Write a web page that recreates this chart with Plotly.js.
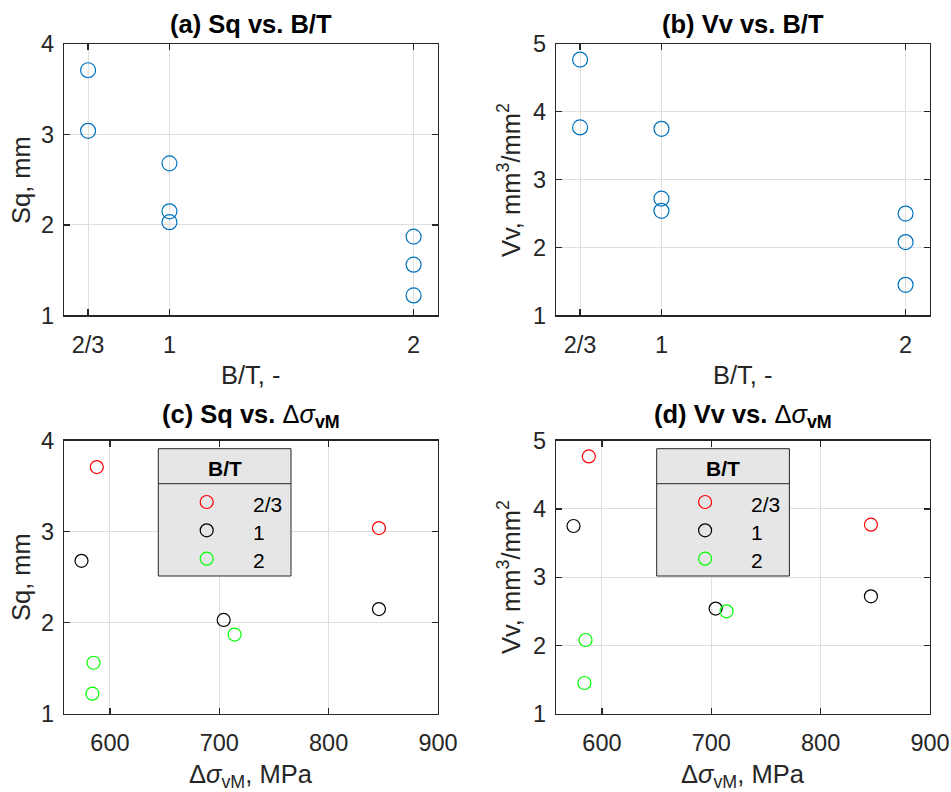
<!DOCTYPE html>
<html>
<head>
<meta charset="utf-8">
<script src="https://cdn.plot.ly/plotly-3.0.1.min.js"></script>
<style>html,body{margin:0;padding:0;background:#fff;}#chart{width:951px;height:792px;}</style>
</head>
<body>
<div id="chart"></div>
<script>
// ---- data ----
const btLabels = ['2/3', '1', '2'];
const btValues = [2/3, 1, 2];
const groupColors = ['#ff0000', '#000000', '#00ff00'];
const sampleBT = [2/3, 2/3, 1, 1, 1, 2, 2, 2];
const sq = [3.71, 3.04, 2.68, 2.15, 2.03, 1.87, 1.56, 1.22];
const vv = [4.77, 3.77, 3.75, 2.72, 2.54, 2.50, 2.08, 1.45];
const dSigma = [588, 846, 574, 846, 704, 714, 585, 584];
const sigmaTicks = [600, 700, 800, 900];

// ---- helpers ----
const W = 951, H = 792;
const FF = 'Liberation Sans, Arial, sans-serif';
const TICK = 23.5, LAB = 25.5, TIT = 25.5, LEG = 21;
const px = v => v / W;
const py = v => 1 - v / H;

function axisBase(extra) {
  return Object.assign({
    showline: true, mirror: 'ticks', linecolor: '#262626', linewidth: 1.3,
    ticks: 'inside', ticklen: 6, tickwidth: 1.3, tickcolor: '#262626',
    showgrid: true, gridcolor: '#dfdfdf', gridwidth: 1, zeroline: false,
    tickfont: {family: FF, size: TICK, color: '#262626'}, fixedrange: true
  }, extra);
}

const traces = [];
// (a) and (b)
traces.push({x: sampleBT, y: sq, xaxis: 'x', yaxis: 'y', type: 'scatter', mode: 'markers',
  marker: {symbol: 'circle-open', size: 15, color: '#0072BD', line: {width: 1.2}}, showlegend: false, hoverinfo: 'none'});
traces.push({x: sampleBT, y: vv, xaxis: 'x2', yaxis: 'y2', type: 'scatter', mode: 'markers',
  marker: {symbol: 'circle-open', size: 15, color: '#0072BD', line: {width: 1.2}}, showlegend: false, hoverinfo: 'none'});
// (c) and (d)
btValues.forEach((bt, g) => {
  const idx = sampleBT.map((v, i) => v === bt ? i : -1).filter(i => i >= 0);
  traces.push({x: idx.map(i => dSigma[i]), y: idx.map(i => sq[i]), xaxis: 'x3', yaxis: 'y3', type: 'scatter', mode: 'markers',
    name: btLabels[g], marker: {symbol: 'circle-open', size: 13, color: groupColors[g], line: {width: 1.2}}, showlegend: false, hoverinfo: 'none'});
  traces.push({x: idx.map(i => dSigma[i]), y: idx.map(i => vv[i]), xaxis: 'x4', yaxis: 'y4', type: 'scatter', mode: 'markers',
    name: btLabels[g], marker: {symbol: 'circle-open', size: 13, color: groupColors[g], line: {width: 1.2}}, showlegend: false, hoverinfo: 'none'});
});

// panel boxes in px
const colL = [64, 438], colR = [556, 930];
const rowT = [44, 315.3], rowB = [440.7, 713.7];
const dom = (a) => [px(a[0]), px(a[1])];
const domY = (a) => [py(a[1]), py(a[0])];

const btAxis = {range: [0.568, 2.1], tickmode: 'array', tickvals: btValues, ticktext: btLabels, ticklabelstandoff: 8};
const sgAxis = {range: [558, 900], tickmode: 'array', tickvals: sigmaTicks, ticklabelstandoff: 8};

const layout = {
  width: W, height: H, margin: {l: 0, r: 0, t: 0, b: 0},
  paper_bgcolor: '#fff', plot_bgcolor: '#fff', showlegend: false,
  font: {family: FF, color: '#262626'},
  xaxis: axisBase(Object.assign({domain: dom(colL), anchor: 'y'}, btAxis)),
  yaxis: axisBase({domain: domY(rowT), anchor: 'x', range: [1, 4], dtick: 1, ticklabelstandoff: 4}),
  xaxis2: axisBase(Object.assign({domain: dom(colR), anchor: 'y2'}, btAxis)),
  yaxis2: axisBase({domain: domY(rowT), anchor: 'x2', range: [1, 5], dtick: 1, ticklabelstandoff: 4}),
  xaxis3: axisBase(Object.assign({domain: dom(colL), anchor: 'y3'}, sgAxis)),
  yaxis3: axisBase({domain: domY(rowB), anchor: 'x3', range: [1, 4], dtick: 1, ticklabelstandoff: 4}),
  xaxis4: axisBase(Object.assign({domain: dom(colR), anchor: 'y4'}, sgAxis)),
  yaxis4: axisBase({domain: domY(rowB), anchor: 'x4', range: [1, 5], dtick: 1, ticklabelstandoff: 4}),
  annotations: [], shapes: []
};

function ann(text, x, y, opts) {
  layout.annotations.push(Object.assign({text: text, xref: 'paper', yref: 'paper', x: px(x), y: py(y),
    xanchor: 'center', yanchor: 'middle', showarrow: false,
    font: {family: FF, size: LAB, color: '#262626'}}, opts || {}));
}
const titleFont = {family: FF, size: TIT, color: '#000'};
// titles
ann('<b>(a) Sq vs. B/T</b>', 251, 24, {font: titleFont});
ann('<b>(b) Vv vs. B/T</b>', 743, 24, {font: titleFont});
ann('<b>(c) Sq vs. </b>Δ<i>σ</i><sub><b>vM</b></sub>', 251, 416, {font: titleFont});
ann('<b>(d) Vv vs. </b>Δ<i>σ</i><sub><b>vM</b></sub>', 743, 416, {font: titleFont});
// x labels
ann('B/T, -', 251, 374.5);
ann('B/T, -', 743, 374.5);
ann('Δ<i>σ</i><sub>vM</sub>, MPa', 251, 776);
ann('Δ<i>σ</i><sub>vM</sub>, MPa', 743, 776);
// y labels
ann('Sq, mm', 21, 180, {textangle: -90});
ann('Vv, mm<sup>3</sup>/mm<sup>2</sup>', 509, 180, {textangle: -90});
ann('Sq, mm', 21, 577, {textangle: -90});
ann('Vv, mm<sup>3</sup>/mm<sup>2</sup>', 509, 577, {textangle: -90});

// legends (c) and (d)
[0, 498.4].forEach(dx => {
  const x0 = 158.3 + dx, x1 = 291 + dx, y0 = 448.7, y1 = 576, ySep = 483.7;
  layout.shapes.push({type: 'rect', xref: 'paper', yref: 'paper', x0: px(x0), x1: px(x1), y0: py(y1), y1: py(y0),
    fillcolor: '#e6e6e6', line: {color: '#262626', width: 1}, layer: 'above'});
  layout.shapes.push({type: 'line', xref: 'paper', yref: 'paper', x0: px(x0), x1: px(x1), y0: py(ySep), y1: py(ySep),
    line: {color: '#262626', width: 1}, layer: 'above'});
  ann('<b>B/T</b>', (x0 + x1) / 2, 468.3, {font: {family: FF, size: LEG, color: '#000'}});
  const rows = [502, 530.3, 558.7];
  btLabels.forEach((lab, g) => {
    layout.shapes.push({type: 'circle', xref: 'paper', yref: 'paper', xsizemode: 'pixel', ysizemode: 'pixel',
      xanchor: px(206.7 + dx), yanchor: py(rows[g]), x0: -6.5, x1: 6.5, y0: -6.5, y1: 6.5,
      line: {color: groupColors[g], width: 1.2}, fillcolor: 'rgba(0,0,0,0)', layer: 'above'});
    ann(lab, 251 + dx, rows[g] + 2, {xanchor: 'left', font: {family: FF, size: LEG, color: '#000'}});
  });
});

Plotly.newPlot('chart', traces, layout, {staticPlot: true, displayModeBar: false});
</script>
</body>
</html>
